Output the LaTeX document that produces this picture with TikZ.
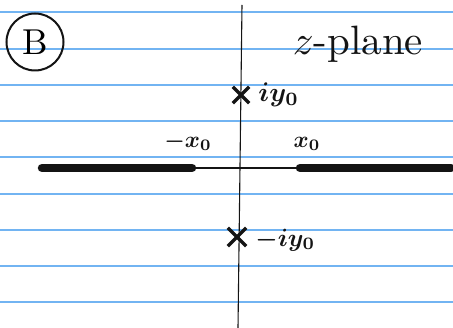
\documentclass[tikz,border=0pt]{standalone}
\usetikzlibrary{positioning,shapes.misc}
\definecolor{ruleblue}{HTML}{72B4F2}
\definecolor{ink}{HTML}{141414}
\newcommand{\enlargeby}[2]{\scalebox{#1}{#2}}

\begin{document}
\begin{tikzpicture}[
    x=1pt, y=-1pt,
    rule/.style={draw=ruleblue, line width=1.6pt},
    axis/.style={draw=ink, line width=1.1pt},
    cut/.style={draw=ink, line width=8.5pt, line cap=round},
    pole/.style={cross out, draw=ink, line width=3.4pt, minimum size=13pt, inner sep=0pt},
    lbl/.style={text=ink, inner sep=1pt, font=\boldmath},
]
\useasboundingbox[fill=white] (0,0) rectangle (453,328);

% ---------------- ruled paper ----------------
\foreach \y in {12, 49, 85, 121, 157, 194, 230, 266, 302}
  \draw[rule] (0,\y) -- (453,\y);

% ---------------- axes ----------------
\coordinate (top) at (242,5);
\coordinate (bot) at (238,328);
\coordinate (left) at (42,168);
\coordinate (right) at (451,168);
\coordinate (mx) at (192,168);
\coordinate (px) at (300,168);
\draw[axis] (top) -- (bot);
\draw[axis] (mx) -- (px);

% branch cuts
\draw[cut] (left) -- (mx);
\draw[cut] (px) -- (right);

% ---------------- poles ----------------
\node[pole] (up) at (241,95) {};
\node[pole, minimum size=15pt] (dn) at (237,237) {};
\node[lbl, right=8pt of up] (uplbl) {\enlargeby{2.7}{$iy_0$}};
\node[lbl, right=8pt of dn, yshift=-3pt] (dnlbl) {\enlargeby{2.5}{$-iy_0$}};

% ---------------- end points ----------------
\node[lbl, above=16pt of mx, xshift=-4pt] (mxlbl) {\enlargeby{2.3}{$-x_0$}};
\node[lbl, above=16pt of px, xshift=7pt] (pxlbl) {\enlargeby{2.3}{$x_0$}};

% ---------------- title ----------------
\node[text=ink, inner sep=1pt] (title) at (358,44) {\enlargeby{4.1}{$z$-plane}};
\node[circle, draw=ink, line width=2pt, minimum size=57pt,
      inner sep=0pt] (tag) at (35,42) {\enlargeby{3.6}{B}};
\end{tikzpicture}
\end{document}
